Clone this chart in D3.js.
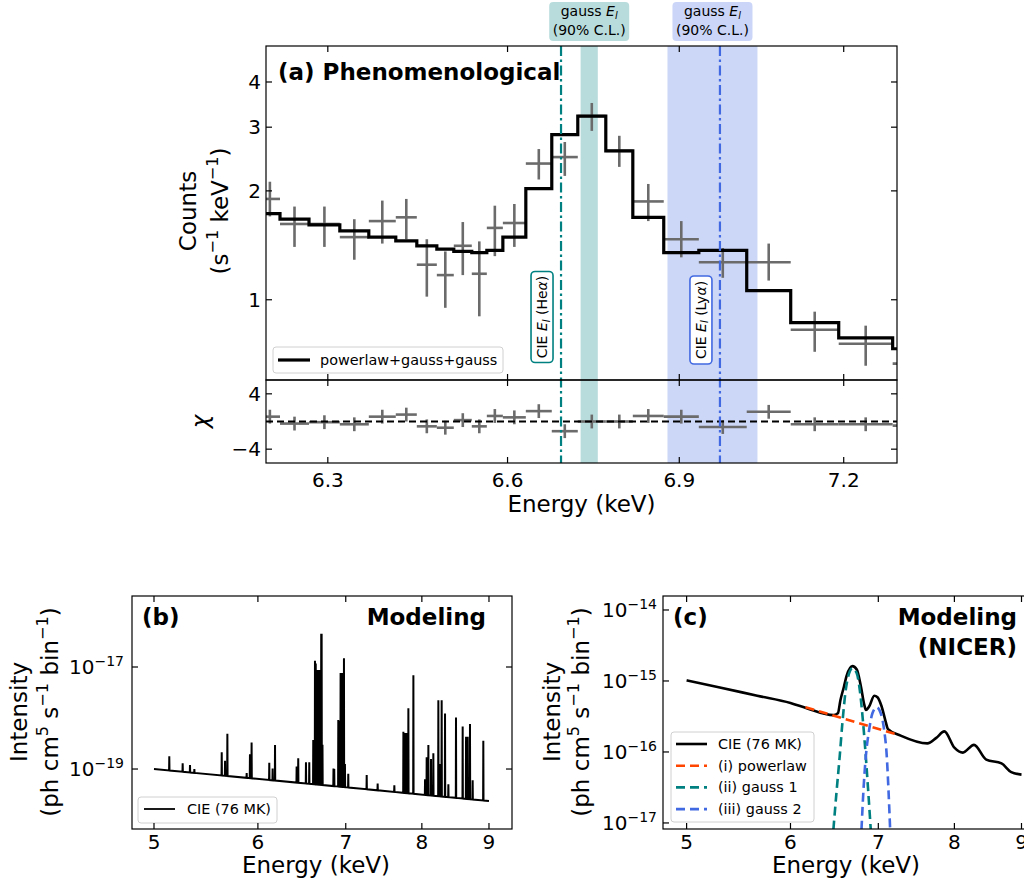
<!DOCTYPE html>
<html><head><meta charset="utf-8">
<script src="https://cdn.jsdelivr.net/npm/d3@7/dist/d3.min.js"></script>
<style>
html,body{margin:0;padding:0;background:#fff;}
svg{display:block;}
text{font-family:"DejaVu Sans",sans-serif;fill:#000;}
</style></head>
<body>
<svg id="fig" width="1024" height="881"></svg>
<script>
// ================= DATA =================
// Panel (a): observed spectrum, bin edges in keV
const aBinEdges = [6.19, 6.2225, 6.2694, 6.3196, 6.3672, 6.4118, 6.4468, 6.4803, 6.5088, 6.5392, 6.5647, 6.592, 6.6313, 6.676, 6.7211, 6.770, 6.8175, 6.8723, 6.935, 7.0215, 7.1019, 7.1907, 7.2918, 7.39];
const aCounts     = [1.90, 1.62, 1.62, 1.49, 1.65, 1.69, 1.25, 1.17, 1.41, 1.18, 1.58, 1.63, 2.38, 2.48, 3.22, 2.58, 1.87, 1.47, 1.27, 1.27, 0.826, 0.756, 0.666];
const aCountsLow  = [1.70, 1.40, 1.40, 1.29, 1.43, 1.47, 1.02, 0.95, 1.17, 0.90, 1.32, 1.40, 2.15, 2.20, 2.93, 2.33, 1.65, 1.31, 1.15, 1.13, 0.718, 0.657, 0.582];
const aCountsHigh = [2.12, 1.81, 1.81, 1.67, 1.88, 1.90, 1.47, 1.36, 1.64, 1.45, 1.82, 1.84, 2.61, 2.73, 3.50, 2.84, 2.09, 1.65, 1.39, 1.43, 0.927, 0.848, 0.742];
const aModel      = [1.73, 1.67, 1.61, 1.55, 1.49, 1.455, 1.41, 1.38, 1.36, 1.35, 1.37, 1.49, 2.03, 2.86, 3.22, 2.58, 1.69, 1.35, 1.37, 1.06, 0.864, 0.785, 0.732];
const aChi        = [0.7, -0.3, -0.1, -0.4, 0.7, 1.0, -0.7, -0.9, 0.2, -0.7, 0.8, 0.6, 1.5, -1.4, 0.0, 0.0, 0.8, 0.7, -0.8, 1.4, -0.4, -0.4, -0.6];
const aXTicks = [6.3, 6.6, 6.9, 7.2];
const aYTicks = [1, 2, 3, 4];
const rYTicks = [-4, 4];
const cieHeAlphaE = 6.692;
const cieLyAlphaE = 6.973;
const gauss1Band = [6.726, 6.756];
const gauss2Band = [6.879, 7.041];

// Panel (b): CIE model spectrum (continuum + emission lines)
const bContE = [5, 6, 7, 8, 9];
const bContI = [1.0e-19, 6.4e-20, 4.4e-20, 3.15e-20, 2.36e-20];
const bLineE = [5.136, 5.258, 5.326, 5.367, 5.631, 5.664, 5.687, 5.883, 5.917, 5.934, 6.121, 6.157, 6.183, 6.422, 6.44, 6.528, 6.566, 6.612, 6.632, 6.641, 6.651, 6.661, 6.671, 6.69, 6.705, 6.71, 6.72, 6.851, 6.86, 6.909, 6.92, 6.937, 6.953, 6.978, 6.99, 7.031, 7.262, 7.403, 7.623, 7.745, 7.77, 7.79, 7.813, 7.882, 8.045, 8.068, 8.092, 8.13, 8.163, 8.235, 8.26, 8.283, 8.332, 8.381, 8.494, 8.594, 8.645, 8.67, 8.705, 8.746, 8.911];
const bLineI = [1.78e-19, 1.29e-19, 1.2e-19, 1.0e-19, 2.14e-19, 1.45e-19, 4.9e-19, 8.3e-20, 1.95e-19, 3.3e-19, 1.32e-19, 1.02e-19, 2.95e-19, 1.12e-19, 1.62e-19, 1.35e-19, 1.35e-19, 3.7e-19, 1.32e-17, 1.17e-17, 8.7e-18, 8.7e-18, 8.7e-18, 8.7e-18, 4.5e-17, 4.5e-17, 3.0e-19, 1.02e-19, 1.0e-19, 9.1e-19, 8.7e-19, 7.6e-18, 7.6e-18, 1.48e-17, 1.26e-19, 8.1e-20, 7.6e-20, 5.2e-20, 4.8e-20, 5.4e-19, 5.1e-19, 5.1e-19, 1.55e-18, 6.9e-18, 6.3e-20, 1.7e-19, 2.95e-19, 1.58e-19, 2.04e-19, 2.24e-18, 1.26e-19, 2.24e-18, 1.23e-18, 5.0e-20, 1.02e-18, 6.8e-19, 4.3e-19, 4.3e-19, 7.6e-19, 6.0e-20, 3.6e-19];
const bcXTicks = [5, 6, 7, 8, 9];
const bYTickExps = [-17, -19];
const cYTickExps = [-14, -15, -16, -17];

// Panel (c): NICER-resolution model and components
const cCieE = [5.0, 5.30, 5.66, 6.0, 6.18, 6.47, 6.52, 6.55, 6.59, 6.62, 6.69, 6.74, 6.79, 6.83, 6.85, 6.89, 6.95, 6.99, 7.04, 7.09, 7.12, 7.28, 7.63, 7.75, 7.86, 8.0, 8.12, 8.28, 8.46, 8.69, 8.84, 9.0];
const cCieI = [1.02e-15, 8.1e-16, 6.2e-16, 4.9e-16, 4.1e-16, 3.3e-16, 3.5e-16, 5.4e-16, 8.3e-16, 1.17e-15, 1.62e-15, 1.45e-15, 8.3e-16, 4.6e-16, 3.9e-16, 4.4e-16, 6.2e-16, 5.9e-16, 4.4e-16, 2.7e-16, 2.1e-16, 1.7e-16, 1.32e-16, 1.58e-16, 1.95e-16, 1.15e-16, 9.8e-17, 1.26e-16, 7.8e-17, 6.9e-17, 5.2e-17, 4.8e-17];
const cPowE = [6.16, 7.25];
const cPowI = [4.27e-16, 1.74e-16];
const cG1E = [6.469, 6.507, 6.541, 6.572, 6.611, 6.650, 6.689, 6.740, 6.776, 6.816, 6.848, 6.876, 6.908];
const cG1I = [8.0e-18, 2.92e-17, 8.6e-17, 2.54e-16, 7.46e-16, 1.28e-15, 1.51e-15, 1.28e-15, 7.46e-16, 2.54e-16, 8.6e-17, 2.92e-17, 8.0e-18];
const cG2E = [6.796, 6.820, 6.848, 6.888, 6.928, 6.981, 7.030, 7.072, 7.105, 7.126, 7.147];
const cG2I = [8.0e-18, 2.92e-17, 8.6e-17, 2.04e-16, 3.51e-16, 4.26e-16, 3.51e-16, 2.04e-16, 8.6e-17, 2.92e-17, 8.0e-18];
const cLegend = ["CIE (76 MK)", "(i) powerlaw", "(ii) gauss 1", "(iii) gauss 2"];

// ================= STYLE =================
const TEAL = "#008080", BLUE = "#4169e1", ORANGE = "#ff4500", GREY = "#6b6b6b";
const TICK_FS = 20, LAB_FS = 23, TITLE_FS = 23, LEG_FS = 14.4, ANN_FS = 14;
const TL = 6;

const svg = d3.select("#fig");
const defs = svg.append("defs");
function clip(id, x, y, w, h) {
  defs.append("clipPath").attr("id", id).append("rect")
    .attr("x", x).attr("y", y).attr("width", w).attr("height", h);
}
function line(g, x1, y1, x2, y2, stroke, w) {
  return g.append("line").attr("x1", x1).attr("y1", y1).attr("x2", x2).attr("y2", y2)
    .attr("stroke", stroke || "#000").attr("stroke-width", w || 1.2);
}
function rich(sel, parts, size) {
  let cur = 0;
  parts.forEach(([s, t]) => {
    let off = 0, fs = size, it = false;
    if (t === "sup") { off = -0.42 * size; fs = size * 0.7; }
    if (t === "sub" || t === "isub") { off = 0.18 * size; fs = size * 0.7; }
    if (t === "i" || t === "isub") it = true;
    const ts = sel.append("tspan").text(s).attr("font-size", fs).attr("dy", off - cur);
    if (it) ts.attr("font-style", "italic");
    cur = off;
  });
  return sel;
}
function frame(l, t, r, b) {
  svg.append("rect").attr("x", l).attr("y", t).attr("width", r - l).attr("height", b - t)
    .attr("fill", "none").attr("stroke", "#000").attr("stroke-width", 1.2);
}
function xTickMarks(scale, vals, t, b) {
  vals.forEach(v => { const x = scale(v); line(svg, x, b, x, b - TL); line(svg, x, t, x, t + TL); });
}
function yTickMarks(scale, vals, l, r) {
  vals.forEach(v => { const y = scale(v); line(svg, l, y, l + TL, y); line(svg, r, y, r - TL, y); });
}
function vLabel(x, y, parts, size) {
  const t = svg.append("text").attr("transform", `translate(${x},${y}) rotate(-90)`)
    .attr("text-anchor", "middle").attr("font-size", size);
  rich(t, parts, size);
  return t;
}

// ================= PANEL (a) =================
const A = { l: 266, r: 897, t: 46, b: 380, rb: 463 };
const xA = d3.scaleLog().domain([6.2, 7.3]).range([A.l, A.r]);
const yA = d3.scaleLog().domain([0.6, 5.03]).range([A.b, A.t]);
const yR = d3.scaleLinear().domain([-6, 6]).range([A.rb, A.b]);
clip("cA", A.l, A.t, A.r - A.l, A.b - A.t);
clip("cR", A.l, A.b, A.r - A.l, A.rb - A.b);
clip("cAll", A.l, A.t, A.r - A.l, A.rb - A.t);

const gBands = svg.append("g").attr("clip-path", "url(#cAll)");
[[gauss1Band, TEAL, 0.28], [gauss2Band, BLUE, 0.27]].forEach(([bd, c, o]) => {
  gBands.append("rect").attr("x", xA(bd[0])).attr("width", xA(bd[1]) - xA(bd[0]))
    .attr("y", A.t).attr("height", A.rb - A.t).attr("fill", c).attr("opacity", o);
});

// data crosses (main)
const gData = svg.append("g").attr("clip-path", "url(#cA)");
aCounts.forEach((v, i) => {
  const lo = aBinEdges[i], hi = aBinEdges[i + 1], xc = xA(Math.sqrt(lo * hi));
  line(gData, xA(lo), yA(v), xA(hi), yA(v), GREY, 2.6);
  line(gData, xc, yA(aCountsLow[i]), xc, yA(aCountsHigh[i]), GREY, 2.6);
});
// model step
const stepPts = aModel.map((v, i) => [aBinEdges[i], v]).concat([[aBinEdges[aBinEdges.length - 1], aModel[aModel.length - 1]]]);
gData.append("path").datum(stepPts)
  .attr("d", d3.line().x(d => xA(d[0])).y(d => yA(d[1])).curve(d3.curveStepAfter))
  .attr("fill", "none").attr("stroke", "#000").attr("stroke-width", 3.2);

// residuals
const gRes = svg.append("g").attr("clip-path", "url(#cR)");
aChi.forEach((v, i) => {
  const lo = aBinEdges[i], hi = aBinEdges[i + 1], xc = xA(Math.sqrt(lo * hi));
  line(gRes, xA(lo), yR(v), xA(hi), yR(v), GREY, 2.6);
  line(gRes, xc, yR(v - 1), xc, yR(v + 1), GREY, 2.6);
});
line(gRes, A.l, yR(0), A.r, yR(0), "#000", 2.2).attr("stroke-dasharray", "7,4");

// CIE vertical lines
[[cieHeAlphaE, TEAL], [cieLyAlphaE, BLUE]].forEach(([e, c]) => {
  line(svg, xA(e), A.t, xA(e), A.rb, c, 2.2).attr("stroke-dasharray", "10,3.5,2.5,3.5");
});

// legend (a)
svg.append("rect").attr("x", 273).attr("y", 347).attr("width", 230).attr("height", 26).attr("rx", 3)
  .attr("fill", "#fff").attr("fill-opacity", 0.8).attr("stroke", "#d0d0d0");
line(svg, 278, 360, 310, 360, "#000", 3.2);
svg.append("text").attr("x", 320).attr("y", 365).attr("font-size", LEG_FS).text("powerlaw+gauss+gauss");

// CIE labels (rotated boxes)
function cieLabel(e, c, lineName, yc, len) {
  const g = svg.append("g").attr("transform", `translate(${xA(e) - 19},${yc}) rotate(-90)`);
  g.append("rect").attr("x", -len / 2).attr("y", -11).attr("width", len).attr("height", 22).attr("rx", 4)
    .attr("fill", "#fff").attr("stroke", c).attr("stroke-width", 1.6);
  const t = g.append("text").attr("text-anchor", "middle").attr("y", 5).attr("font-size", ANN_FS);
  rich(t, [["CIE ", "n"], ["E", "i"], ["l", "isub"], [" (" + lineName, "n"], ["α", "i"], [")", "n"]], ANN_FS);
}
cieLabel(cieHeAlphaE, TEAL, "He", 317, 91);
cieLabel(cieLyAlphaE, BLUE, "Ly", 320, 88);

// gauss labels above
[[gauss1Band, TEAL], [gauss2Band, BLUE]].forEach(([bd, c]) => {
  const xc = xA(Math.sqrt(bd[0] * bd[1]));
  svg.append("rect").attr("x", xc - 40).attr("y", 2).attr("width", 80).attr("height", 39).attr("rx", 4)
    .attr("fill", c).attr("opacity", 0.28);
  const t1 = svg.append("text").attr("x", xc).attr("y", 16).attr("text-anchor", "middle").attr("font-size", ANN_FS);
  rich(t1, [["gauss ", "n"], ["E", "i"], ["l", "isub"]], ANN_FS);
  svg.append("text").attr("x", xc).attr("y", 35).attr("text-anchor", "middle").attr("font-size", ANN_FS).text("(90% C.L.)");
});

// frames & ticks (a)
frame(A.l, A.t, A.r, A.b);
frame(A.l, A.b, A.r, A.rb);
xTickMarks(xA, aXTicks, A.t, A.b);
xTickMarks(xA, aXTicks, A.b, A.rb);
yTickMarks(yA, aYTicks, A.l, A.r);
yTickMarks(yR, rYTicks, A.l, A.r);
aYTicks.forEach(v => svg.append("text").attr("x", 261).attr("y", yA(v) + 7).attr("text-anchor", "end").attr("font-size", TICK_FS).text(v));
rYTicks.forEach(v => svg.append("text").attr("x", 261).attr("y", yR(v) + 7).attr("text-anchor", "end").attr("font-size", TICK_FS).text(v < 0 ? "−" + Math.abs(v) : v));
aXTicks.forEach(v => svg.append("text").attr("x", xA(v)).attr("y", 487).attr("text-anchor", "middle").attr("font-size", TICK_FS).text(v.toFixed(1)));
svg.append("text").attr("x", (A.l + A.r) / 2).attr("y", 512).attr("text-anchor", "middle").attr("font-size", LAB_FS).text("Energy (keV)");
vLabel(196, 211, [["Counts", "n"]], LAB_FS);
vLabel(228, 211, [["(s", "n"], ["−1", "sup"], [" keV", "n"], ["−1", "sup"], [")", "n"]], LAB_FS);
vLabel(208, yR(0), [["χ", "i"]], LAB_FS);
svg.append("text").attr("x", 278).attr("y", 80).attr("font-size", TITLE_FS).attr("font-weight", "bold").text("(a) Phenomenological");

// ================= PANEL (b) =================
const B = { l: 132, r: 512, t: 596, b: 829 };
const xB = d3.scaleLog().domain([4.8107, 9.371]).range([B.l, B.r]);
const yB = d3.scaleLog().domain([6.67e-21, 2.466e-16]).range([B.b, B.t]);
clip("cB", B.l, B.t, B.r - B.l, B.b - B.t);
const contLog = d3.scaleLog().domain(bContE).range(bContI.map(v => Math.log10(v)));
const baseAt = e => Math.pow(10, contLog(e));
const bPts = [[bContE[0], bContI[0]]];
bLineE.forEach((e, i) => {
  const d = 0.00035;
  bPts.push([e * (1 - d), baseAt(e * (1 - d))], [e, bLineI[i]], [e * (1 + d), baseAt(e * (1 + d))]);
});
bPts.push([bContE[bContE.length - 1], bContI[bContI.length - 1]]);
svg.append("g").attr("clip-path", "url(#cB)").append("path").datum(bPts)
  .attr("d", d3.line().x(d => xB(d[0])).y(d => yB(d[1])))
  .attr("fill", "none").attr("stroke", "#000").attr("stroke-width", 2).attr("stroke-linejoin", "miter");

// legend (b)
svg.append("rect").attr("x", 138).attr("y", 797).attr("width", 139).attr("height", 26).attr("rx", 3)
  .attr("fill", "#fff").attr("fill-opacity", 0.8).attr("stroke", "#d0d0d0");
line(svg, 144, 809, 175, 809, "#000", 1.8);
svg.append("text").attr("x", 187).attr("y", 814).attr("font-size", LEG_FS).text("CIE (76 MK)");

frame(B.l, B.t, B.r, B.b);
xTickMarks(xB, bcXTicks, B.t, B.b);
yTickMarks(yB, bYTickExps.map(p => Math.pow(10, p)), B.l, B.r);
function sciTick(x, y, p) {
  const t = svg.append("text").attr("x", x).attr("y", y + 7).attr("text-anchor", "end").attr("font-size", TICK_FS);
  rich(t, [["10", "n"], ["−" + Math.abs(p), "sup"]], TICK_FS);
}
bYTickExps.forEach(p => sciTick(124, yB(Math.pow(10, p)), p));
bcXTicks.forEach(v => svg.append("text").attr("x", xB(v)).attr("y", 849).attr("text-anchor", "middle").attr("font-size", TICK_FS).text(v));
svg.append("text").attr("x", (B.l + B.r) / 2 - 6).attr("y", 873).attr("text-anchor", "middle").attr("font-size", LAB_FS).text("Energy (keV)");
vLabel(27, 712, [["Intensity", "n"]], LAB_FS);
vLabel(58, 712, [["(ph cm", "n"], ["5", "sup"], [" s", "n"], ["−1", "sup"], [" bin", "n"], ["−1", "sup"], [")", "n"]], LAB_FS);
svg.append("text").attr("x", 142).attr("y", 625).attr("font-size", TITLE_FS).attr("font-weight", "bold").text("(b)");
svg.append("text").attr("x", 486).attr("y", 625).attr("text-anchor", "end").attr("font-size", TITLE_FS).attr("font-weight", "bold").text("Modeling");

// ================= PANEL (c) =================
const C = { l: 663, r: 1045, t: 596, b: 829 };
const xC = d3.scaleLog().domain([4.797, 9.379]).range([C.l, C.r]);
const yC = d3.scaleLog().domain([8.22e-18, 1.574e-14]).range([C.b, C.t]);
clip("cC", C.l, C.t, C.r - C.l, C.b - C.t);
const gC = svg.append("g").attr("clip-path", "url(#cC)");
const lnC = d3.line().x(d => xC(d[0])).y(d => yC(d[1])).curve(d3.curveMonotoneX);
gC.append("path").datum(cCieE.map((e, i) => [e, cCieI[i]])).attr("d", lnC)
  .attr("fill", "none").attr("stroke", "#000").attr("stroke-width", 2.6);
gC.append("path").datum(cPowE.map((e, i) => [e, cPowI[i]])).attr("d", lnC)
  .attr("fill", "none").attr("stroke", ORANGE).attr("stroke-width", 2.6).attr("stroke-dasharray", "9,5");
gC.append("path").datum(cG1E.map((e, i) => [e, cG1I[i]])).attr("d", lnC)
  .attr("fill", "none").attr("stroke", TEAL).attr("stroke-width", 2.6).attr("stroke-dasharray", "9,5");
gC.append("path").datum(cG2E.map((e, i) => [e, cG2I[i]])).attr("d", lnC)
  .attr("fill", "none").attr("stroke", BLUE).attr("stroke-width", 2.6).attr("stroke-dasharray", "9,5");

// legend (c)
svg.append("rect").attr("x", 671).attr("y", 732).attr("width", 143).attr("height", 90).attr("rx", 3)
  .attr("fill", "#fff").attr("fill-opacity", 0.8).attr("stroke", "#d0d0d0");
const legStyles = [["#000", null], [ORANGE, "9,5"], [TEAL, "9,5"], [BLUE, "9,5"]];
cLegend.forEach((name, i) => {
  const y = 744 + i * 21.7;
  const l = line(svg, 676, y, 707, y, legStyles[i][0], 2.6);
  if (legStyles[i][1]) l.attr("stroke-dasharray", legStyles[i][1]);
  svg.append("text").attr("x", 718).attr("y", y + 5).attr("font-size", LEG_FS).text(name);
});

frame(C.l, C.t, C.r, C.b);
xTickMarks(xC, bcXTicks, C.t, C.b);
yTickMarks(yC, cYTickExps.map(p => Math.pow(10, p)), C.l, C.r);
cYTickExps.forEach(p => sciTick(657, yC(Math.pow(10, p)), p));
bcXTicks.forEach(v => svg.append("text").attr("x", xC(v)).attr("y", 849).attr("text-anchor", "middle").attr("font-size", TICK_FS).text(v));
svg.append("text").attr("x", 846).attr("y", 873).attr("text-anchor", "middle").attr("font-size", LAB_FS).text("Energy (keV)");
vLabel(560, 712, [["Intensity", "n"]], LAB_FS);
vLabel(589, 712, [["(ph cm", "n"], ["5", "sup"], [" s", "n"], ["−1", "sup"], [" bin", "n"], ["−1", "sup"], [")", "n"]], LAB_FS);
svg.append("text").attr("x", 673).attr("y", 625).attr("font-size", TITLE_FS).attr("font-weight", "bold").text("(c)");
svg.append("text").attr("x", 1017).attr("y", 625).attr("text-anchor", "end").attr("font-size", TITLE_FS).attr("font-weight", "bold").text("Modeling");
svg.append("text").attr("x", 1017).attr("y", 655).attr("text-anchor", "end").attr("font-size", TITLE_FS).attr("font-weight", "bold").text("(NICER)");
</script>
</body></html>
